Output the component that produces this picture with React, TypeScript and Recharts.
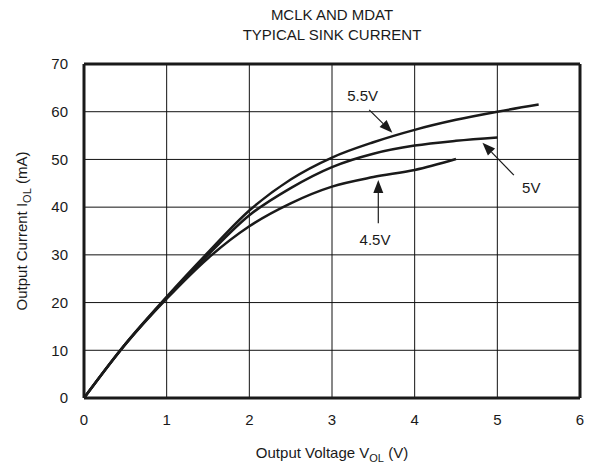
import React from 'react';
import {
  LineChart,
  Line,
  XAxis,
  YAxis,
  CartesianGrid,
  ReferenceLine,
  ReferenceDot,
} from 'recharts';

const voltages = [0, 0.5, 1, 1.5, 2, 2.5, 3, 3.5, 4, 4.5, 5, 5.5];
const sink55 = [0, 11.3, 21.2, 30.5, 39.3, 45.8, 50.4, 53.6, 56.2, 58.3, 60, 61.5];
const sink50 = [0, 11.3, 21, 30, 38.3, 44, 48.4, 51.2, 52.9, 53.9, 54.6];
const sink45 = [0, 11.2, 20.8, 29.3, 36, 40.8, 44.3, 46.3, 47.8, 50.1];

const xTicks = [0, 1, 2, 3, 4, 5, 6];
const yTicks = [0, 10, 20, 30, 40, 50, 60, 70];

// annotation arrows: [tailX, tailY, headX, headY]
const arrows = [
  [3.45, 60.4, 3.73, 55.6],
  [5.2, 46.7, 4.82, 53.5],
  [3.56, 36.6, 3.56, 45.7],
];
const noteText = ['5.5V', '5V', '4.5V'];
const notePos = [
  [3.37, 63.4],
  [5.41, 44.1],
  [3.52, 33.1],
];

const data = voltages.map((v, i) => ({
  v,
  s55: sink55[i],
  s50: sink50[i],
  s45: sink45[i],
}));

const font = '"Liberation Sans", Arial, Helvetica, sans-serif';
const ink = '#1a1a1a';

const Arrow = (props: any) => {
  const { x1, y1, x2, y2 } = props;
  if (x1 == null) return null;
  const ang = Math.atan2(y2 - y1, x2 - x1);
  const len = 13;
  const w = 5;
  const bx = x2 - len * Math.cos(ang);
  const by = y2 - len * Math.sin(ang);
  const px = -Math.sin(ang) * w;
  const py = Math.cos(ang) * w;
  return (
    <g>
      <line x1={x1} y1={y1} x2={bx} y2={by} stroke={ink} strokeWidth={1.2} />
      <polygon points={`${x2},${y2} ${bx + px},${by + py} ${bx - px},${by - py}`} fill={ink} />
    </g>
  );
};

const XTitle = (props: any) => {
  const { x, y, width } = props.viewBox;
  return (
    <text x={x + width / 2} y={y + 60} textAnchor="middle" fontSize={15} fill={ink} fontFamily={font}>
      Output Voltage V<tspan fontSize={11} dy={4}>OL</tspan>
      <tspan dy={-4}> (V)</tspan>
    </text>
  );
};

const YTitle = (props: any) => {
  const { y, height } = props.viewBox;
  const cx = 27;
  const cy = y + height / 2;
  return (
    <text
      x={cx}
      y={cy}
      textAnchor="middle"
      fontSize={15}
      fill={ink}
      fontFamily={font}
      transform={`rotate(-90 ${cx} ${cy})`}
    >
      Output Current I<tspan fontSize={11} dy={4}>OL</tspan>
      <tspan dy={-4}> (mA)</tspan>
    </text>
  );
};

export default function App() {
  return (
    <div style={{ position: 'absolute', left: 0, top: 0, width: 592, height: 466, background: '#fff', fontFamily: font }}>
      <div
        style={{
          position: 'absolute',
          left: 84,
          width: 496,
          top: 5,
          textAlign: 'center',
          fontSize: 15,
          lineHeight: '20px',
          color: ink,
        }}
      >
        MCLK AND MDAT
        <br />
        TYPICAL SINK CURRENT
      </div>
      <LineChart width={592} height={466} data={data} margin={{ top: 64, right: 12, left: 0, bottom: 0 }}>
        <CartesianGrid stroke="#111" strokeWidth={1} />
        <XAxis
          dataKey="v"
          type="number"
          domain={[0, 6]}
          ticks={xTicks}
          height={68}
          tickSize={0}
          tickMargin={16}
          tickLine={false}
          axisLine={false}
          tick={{ fontSize: 15, fill: ink, fontFamily: font }}
          label={<XTitle />}
        />
        <YAxis
          type="number"
          domain={[0, 70]}
          ticks={yTicks}
          width={84}
          tickSize={0}
          tickMargin={16}
          tickLine={false}
          axisLine={false}
          tick={{ fontSize: 15, fill: ink, fontFamily: font }}
          label={<YTitle />}
        />
        <ReferenceLine segment={[{ x: 0, y: 0 }, { x: 6, y: 0 }]} stroke={ink} strokeWidth={3} />
        <ReferenceLine segment={[{ x: 0, y: 70 }, { x: 6, y: 70 }]} stroke={ink} strokeWidth={3} />
        <ReferenceLine segment={[{ x: 0, y: 0 }, { x: 0, y: 70 }]} stroke={ink} strokeWidth={3} />
        <ReferenceLine segment={[{ x: 6, y: 0 }, { x: 6, y: 70 }]} stroke={ink} strokeWidth={3} />
        <Line type="monotone" dataKey="s55" stroke={ink} strokeWidth={2.5} dot={false} isAnimationActive={false} />
        <Line type="monotone" dataKey="s50" stroke={ink} strokeWidth={2.5} dot={false} isAnimationActive={false} />
        <Line type="monotone" dataKey="s45" stroke={ink} strokeWidth={2.5} dot={false} isAnimationActive={false} />
        {arrows.map((a, i) => (
          <ReferenceLine
            key={'a' + i}
            segment={[{ x: a[0], y: a[1] }, { x: a[2], y: a[3] }]}
            shape={<Arrow />}
          />
        ))}
        {notePos.map((p, i) => (
          <ReferenceDot
            key={'n' + i}
            x={p[0]}
            y={p[1]}
            r={0}
            fillOpacity={0}
            strokeOpacity={0}
            label={{ value: noteText[i], position: 'center', fontSize: 15, fill: ink, fontFamily: font }}
          />
        ))}
      </LineChart>
    </div>
  );
}
